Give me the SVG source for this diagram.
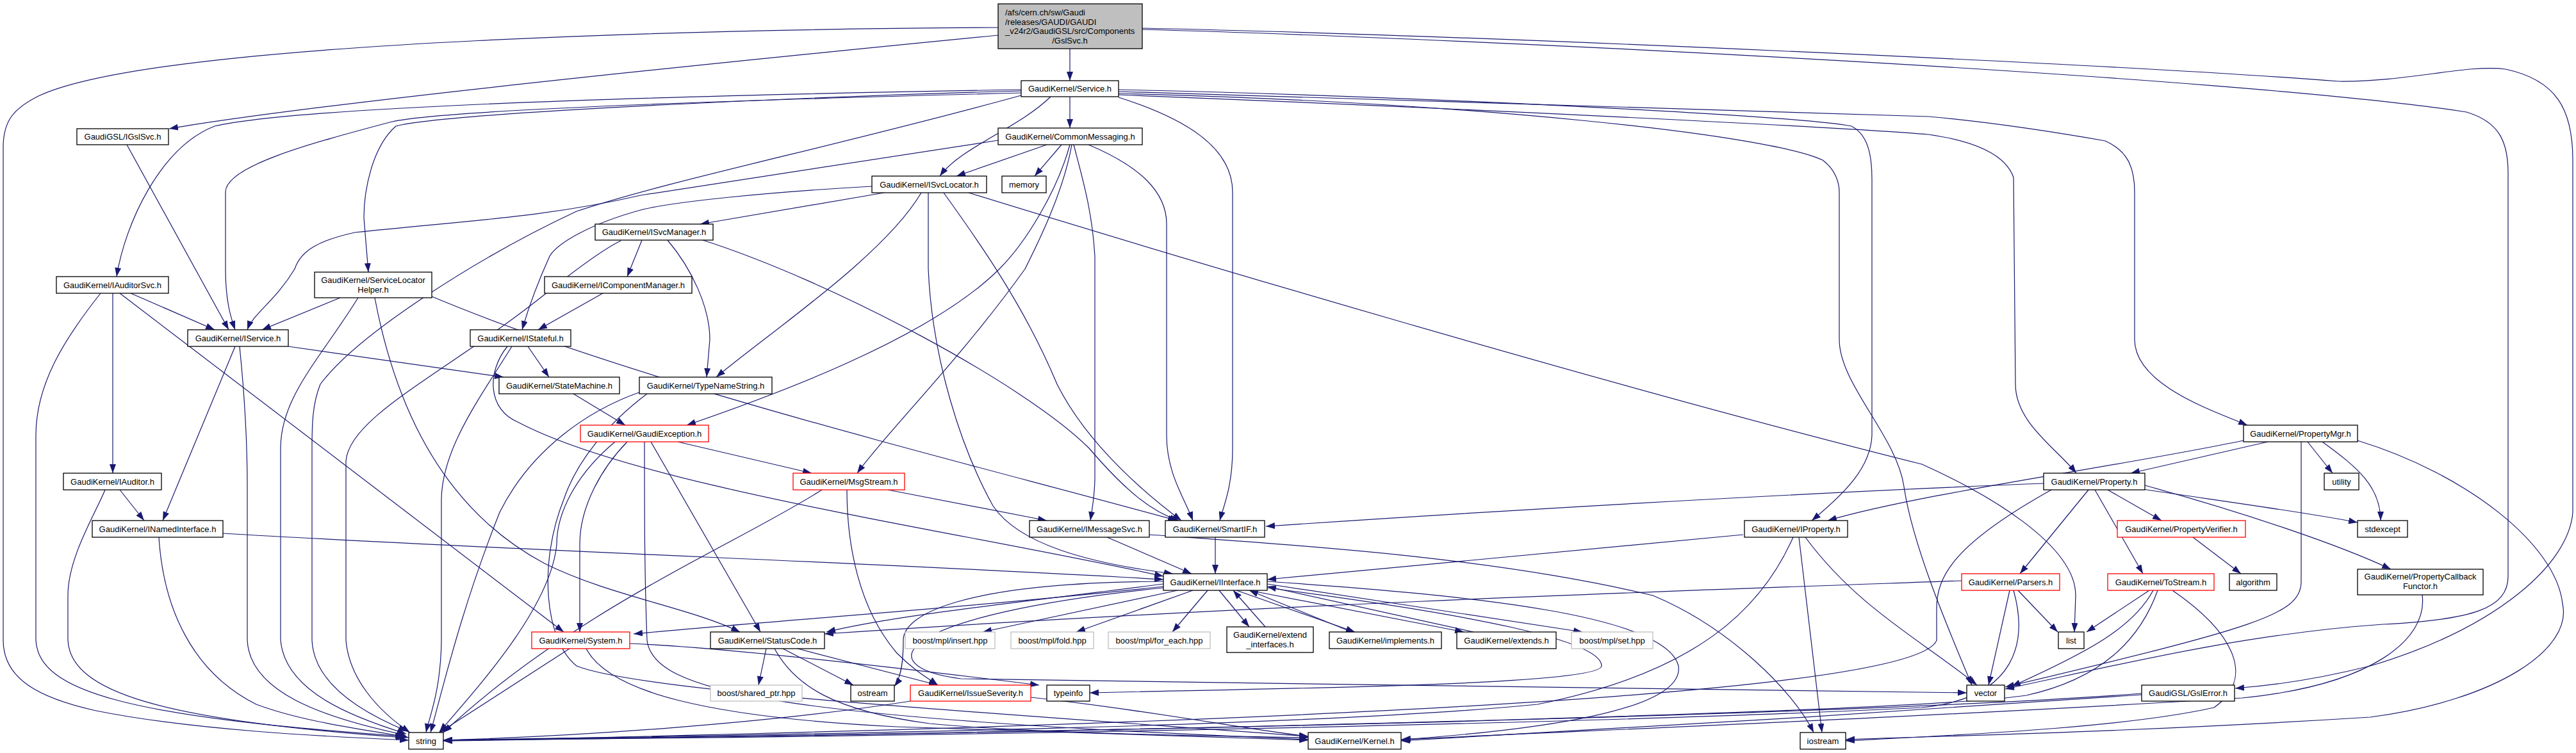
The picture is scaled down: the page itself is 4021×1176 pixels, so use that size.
<svg xmlns="http://www.w3.org/2000/svg" width="4021" height="1176" viewBox="0 0 4021 1176">
<defs>
<marker id="a" markerWidth="14" markerHeight="10" refX="14" refY="5" orient="auto" markerUnits="userSpaceOnUse"><path d="M0,0 L14,5 L0,10 z" fill="#191970"/></marker>
<style>
.n rect{fill:#fff;stroke:#000;stroke-width:1.3}
.n.r rect{stroke:#ff0000}
.n.g rect{stroke:#bfbfbf}
.n.m rect{fill:#bfbfbf}
text{font-family:"Liberation Sans",Arial,sans-serif;font-size:13px;fill:#000;text-anchor:middle}
text.l{text-anchor:start}
#edges path{fill:none;stroke:#191970;stroke-width:1.2;marker-end:url(#a)}
</style>
</defs>
<rect width="4021" height="1176" fill="#fff"/>
<g id="edges">
<path d="M1558,43 C1200,45 250,60 60,150 C20,170 5,190 5,230 L5,1000 C5,1060 60,1090 150,1110 C300,1140 500,1150 638,1156"/>
<path d="M1558,55 C1200,90 500,160 264,201"/>
<path d="M1670,76 L1670,126"/>
<path d="M1783,46 C2300,60 3500,120 3850,175 C3900,190 3915,220 3915,270 L3915,900 C3915,950 3860,968 3720,975 C3500,990 3300,1040 3130,1076"/>
<path d="M1783,44 C2300,55 3300,100 3651,127 C3760,128 3850,100 3911,108 C3990,125 4016,170 4016,250 L4016,800 C4010,880 3900,980 3700,1040 C3600,1065 3530,1072 3489,1075"/>
<path d="M198,226 L357,515"/>
<path d="M1594,140 C1300,145 500,160 335,197 C250,230 195,350 182,432"/>
<path d="M1594,142 C1300,150 700,175 618,197 C580,230 568,300 568,340 L575,425"/>
<path d="M1594,145 C1200,155 700,170 612,190 C480,225 352,260 352,300 L352,420 C352,470 360,495 367,515"/>
<path d="M1594,149 C1300,230 1050,280 900,330 C750,400 560,520 500,600 C488,630 487,660 487,700 L487,1000 C490,1070 570,1115 636,1142"/>
<path d="M1640,151 C1590,200 1500,230 1467,275"/>
<path d="M1670,151 L1670,200"/>
<path d="M1746,152 C1850,185 1924,230 1924,300 L1924,700 C1924,760 1910,790 1904,813"/>
<path d="M1746,140 C2200,150 2800,180 2890,197 C2915,210 2922,240 2922,280 L2922,680 C2920,730 2880,770 2828,813"/>
<path d="M1746,146 C2300,160 2760,210 2845,250 C2865,265 2871,285 2871,300 L2871,530 C2871,600 2960,680 2972,760 C2985,850 3040,980 3078,1070"/>
<path d="M1746,143 C2300,160 2900,175 3010,182 C3100,190 3200,205 3286,220 C3320,235 3332,260 3332,300 L3332,530 C3332,600 3450,640 3508,664"/>
<path d="M1746,148 C2300,170 2900,200 3010,210 C3080,220 3130,240 3143,277 L3146,600 C3146,660 3210,700 3241,739"/>
<path d="M1559,219 C1300,260 1100,290 1000,305 C850,340 720,345 554,363 C500,375 470,390 460,420 C430,470 395,490 386,515"/>
<path d="M1634,226 L1493,275"/>
<path d="M1657,226 L1615,275"/>
<path d="M1670,226 C1650,300 1600,380 1560,420 C1450,530 1200,620 1072,664"/>
<path d="M1673,226 C1660,300 1620,380 1600,420 C1500,560 1380,680 1338,739"/>
<path d="M1676,226 C1690,280 1705,330 1709,400 L1709,750 C1708,780 1704,800 1702,813"/>
<path d="M1699,226 C1780,260 1821,300 1821,350 L1821,680 C1821,740 1850,780 1862,813"/>
<path d="M1380,301 L1093,350"/>
<path d="M1438,301 C1380,400 1200,520 1118,589"/>
<path d="M1449,301 L1449,420 C1455,560 1500,700 1550,790 C1590,850 1700,880 1831,896"/>
<path d="M1473,301 C1530,380 1600,480 1650,600 C1700,700 1800,780 1844,813"/>
<path d="M1512,301 C1800,390 2500,600 3000,725 C3100,770 3240,850 3240,930 L3238,987"/>
<path d="M1361,291 C1200,300 1050,315 1000,328 C920,350 870,380 858,400 C840,440 825,480 815,515"/>
<path d="M1002,375 L979,432"/>
<path d="M1042,375 C1080,420 1108,480 1108,530 L1103,589"/>
<path d="M1097,375 C1300,440 1600,600 1700,700 C1760,770 1800,800 1840,813"/>
<path d="M969,376 C940,390 900,420 850,460 C700,580 545,650 540,720 L540,1000 C545,1060 590,1110 640,1144"/>
<path d="M157,458 C100,530 56,600 56,680 L56,1000 C60,1080 200,1120 631,1150"/>
<path d="M176,458 L176,739"/>
<path d="M204,458 L335,515"/>
<path d="M187,458 L880,987"/>
<path d="M164,765 C150,800 106,870 106,930 L106,1000 C110,1080 250,1125 632,1152"/>
<path d="M187,765 L225,813"/>
<path d="M348,833 C800,860 1400,880 1816,905"/>
<path d="M248,839 C255,950 300,1050 400,1100 C480,1130 580,1140 638,1152"/>
<path d="M367,541 L254,813"/>
<path d="M450,541 L786,589"/>
<path d="M374,541 C380,600 386,680 386,760 L386,1000 C390,1080 500,1120 633,1148"/>
<path d="M531,465 L409,515"/>
<path d="M559,465 C500,560 438,620 438,700 L438,1000 C445,1080 550,1120 634,1146"/>
<path d="M585,465 C620,650 700,800 850,880 C950,930 1080,950 1155,987"/>
<path d="M674,463 C1000,600 1500,720 1837,813"/>
<path d="M824,541 L857,589"/>
<path d="M799,541 C750,620 690,700 689,780 L689,1000 C688,1080 670,1120 665,1144"/>
<path d="M792,541 C760,580 760,640 810,660 C1000,760 1500,830 1816,900"/>
<path d="M941,458 L840,515"/>
<path d="M895,615 L976,664"/>
<path d="M1000,612 C920,640 830,700 780,800 C720,950 690,1080 672,1144"/>
<path d="M1010,615 C950,660 900,720 880,780 C840,880 850,1000 900,1040 C1000,1080 1500,1110 2042,1150"/>
<path d="M1058,690 L1267,739"/>
<path d="M979,690 C940,730 905,790 905,850 L905,987"/>
<path d="M960,690 C900,740 869,800 869,850 C860,950 740,1080 686,1143"/>
<path d="M1016,690 L1187,987"/>
<path d="M1006,690 C1006,800 1006,900 1010,1000 C1020,1080 1200,1120 2042,1155"/>
<path d="M1386,765 L1634,813"/>
<path d="M1283,765 C1150,850 900,950 692,1144"/>
<path d="M1322,765 C1322,850 1340,950 1400,1020 C1430,1050 1450,1060 1464,1070"/>
<path d="M1728,839 L1860,896"/>
<path d="M1794,835 C2000,850 2322,868 2580,930 C2700,980 2800,1080 2831,1144"/>
<path d="M1897,839 L1897,896"/>
<path d="M1816,912 C1600,940 1400,960 1290,987"/>
<path d="M1838,922 L1534,987"/>
<path d="M1862,922 L1680,987"/>
<path d="M1885,922 L1830,987"/>
<path d="M1903,922 L1950,979"/>
<path d="M1930,922 L2115,987"/>
<path d="M1950,922 L2285,987"/>
<path d="M1978,912 L2470,987"/>
<path d="M1816,916 C1500,950 1200,970 989,990"/>
<path d="M1975,979 L1925,922"/>
<path d="M2110,987 L1950,922"/>
<path d="M2300,987 L1978,916"/>
<path d="M3343,1083 C3000,1110 2000,1140 692,1157"/>
<path d="M3343,1085 C3000,1110 2500,1140 2187,1157"/>
<path d="M2799,839 C2750,950 2650,1050 2400,1100 C2000,1140 1000,1150 692,1156"/>
<path d="M2721,835 L1978,905"/>
<path d="M2808,839 L2844,1144"/>
<path d="M2818,839 C2900,950 3000,1000 3086,1070"/>
<path d="M3062,907 C2700,920 2000,942 1287,990"/>
<path d="M3150,922 L3212,987"/>
<path d="M3137,922 L3104,1070"/>
<path d="M3143,922 C3165,1000 3150,1090 3000,1105 C2500,1130 1500,1150 692,1156"/>
<path d="M3355,922 L3257,987"/>
<path d="M3361,922 C3330,980 3260,1018 3140,1072"/>
<path d="M3368,922 C3340,1000 3280,1060 3163,1086 C3000,1110 2000,1140 692,1156"/>
<path d="M3391,922 C3490,990 3520,1060 3456,1105 C3300,1140 3000,1150 2881,1157"/>
<path d="M3423,839 L3498,896"/>
<path d="M3502,688 C3300,730 3000,770 2853,813"/>
<path d="M3540,690 L3326,739"/>
<path d="M3602,690 L3641,739"/>
<path d="M3625,690 C3680,730 3716,760 3716,813"/>
<path d="M3592,690 L3592,910 C3590,960 3521,980 3130,1073"/>
<path d="M3680,688 C3850,740 3990,850 4000,943 C4016,1013 3900,1093 3700,1120 C3300,1145 3000,1150 2881,1155"/>
<path d="M3190,755 C2800,770 2300,800 1976,822"/>
<path d="M3290,765 L3374,813"/>
<path d="M3260,765 L3153,896"/>
<path d="M3270,765 L3345,896"/>
<path d="M3345,764 C3450,780 3600,800 3680,816"/>
<path d="M3348,758 C3500,800 3650,850 3732,889"/>
<path d="M3202,765 C3050,850 3023,900 3023,950 L3023,1000 C3000,1060 2500,1120 692,1157"/>
<path d="M3781,929 C3790,1000 3700,1070 3500,1090 C3000,1120 2500,1140 2187,1155"/>
<path d="M1421,1095 C1200,1130 900,1150 692,1156"/>
<path d="M1609,1089 C1800,1110 1950,1140 2042,1150"/>
<path d="M1209,1013 C1240,1070 1300,1110 1451,1130 C1600,1145 1900,1150 2042,1152"/>
<path d="M1196,1013 L1184,1070"/>
<path d="M1222,1013 L1332,1070"/>
<path d="M1245,1013 L1464,1070"/>
<path d="M889,1013 L686,1144"/>
<path d="M915,1013 C950,1080 1100,1120 1400,1135 C1700,1145 1900,1150 2042,1156"/>
<path d="M983,1005 C1100,1010 1300,1030 1622,1070"/>
<path d="M1978,908 C2300,930 2600,960 2620,1040 C2630,1110 2400,1140 2188,1155"/>
<path d="M1816,908 C1500,910 1410,960 1410,1000 C1410,1040 1405,1060 1396,1072"/>
<path d="M1978,918 C2300,960 2500,1000 2500,1040 C2500,1070 2000,1075 1701,1082"/>
<path d="M1816,918 C1400,960 1350,1040 1500,1060 C2000,1070 2800,1075 3070,1082"/>
</g>
<g id="main" class="n m"><rect x="1558" y="6" width="225" height="70"/><text class="l" x="1569" y="24">/afs/cern.ch/sw/Gaudi</text><text class="l" x="1569" y="38.5">/releases/GAUDI/GAUDI</text><text class="l" x="1569" y="53">_v24r2/GaudiGSL/src/Components</text><text x="1670" y="67.5">/GslSvc.h</text></g>
<g id="Service" class="n"><rect x="1594" y="126" width="152" height="25"/><text x="1670" y="143">GaudiKernel/Service.h</text></g>
<g id="IGslSvc" class="n"><rect x="120" y="201" width="143" height="25"/><text x="191.5" y="218">GaudiGSL/IGslSvc.h</text></g>
<g id="CommonMessaging" class="n"><rect x="1558" y="200" width="225" height="26"/><text x="1670.5" y="217.5">GaudiKernel/CommonMessaging.h</text></g>
<g id="ISvcLocator" class="n"><rect x="1361" y="275" width="179" height="26"/><text x="1450.5" y="292.5">GaudiKernel/ISvcLocator.h</text></g>
<g id="memory" class="n"><rect x="1564" y="275" width="69" height="26"/><text x="1598.5" y="292.5">memory</text></g>
<g id="ISvcManager" class="n"><rect x="929" y="350" width="184" height="25"/><text x="1021" y="367">GaudiKernel/ISvcManager.h</text></g>
<g id="IAuditorSvc" class="n"><rect x="88" y="432" width="175" height="26"/><text x="175.5" y="449.5">GaudiKernel/IAuditorSvc.h</text></g>
<g id="ServiceLocatorHelper" class="n"><rect x="491" y="425" width="183" height="40"/><text x="582.5" y="441.5">GaudiKernel/ServiceLocator</text><text x="582.5" y="456.5">Helper.h</text></g>
<g id="IComponentManager" class="n"><rect x="850" y="432" width="230" height="26"/><text x="965" y="449.5">GaudiKernel/IComponentManager.h</text></g>
<g id="IService" class="n"><rect x="293" y="515" width="157" height="26"/><text x="371.5" y="532.5">GaudiKernel/IService.h</text></g>
<g id="IStateful" class="n"><rect x="734" y="515" width="157" height="26"/><text x="812.5" y="532.5">GaudiKernel/IStateful.h</text></g>
<g id="StateMachine" class="n"><rect x="779" y="589" width="188" height="26"/><text x="873" y="606.5">GaudiKernel/StateMachine.h</text></g>
<g id="TypeNameString" class="n"><rect x="998" y="589" width="207" height="26"/><text x="1101.5" y="606.5">GaudiKernel/TypeNameString.h</text></g>
<g id="GaudiException" class="n r"><rect x="906" y="664" width="200" height="26"/><text x="1006" y="681.5">GaudiKernel/GaudiException.h</text></g>
<g id="IAuditor" class="n"><rect x="99" y="739" width="153" height="26"/><text x="175.5" y="756.5">GaudiKernel/IAuditor.h</text></g>
<g id="MsgStream" class="n r"><rect x="1238" y="739" width="174" height="26"/><text x="1325" y="756.5">GaudiKernel/MsgStream.h</text></g>
<g id="PropertyMgr" class="n"><rect x="3502" y="664" width="178" height="26"/><text x="3591" y="681.5">GaudiKernel/PropertyMgr.h</text></g>
<g id="Property" class="n"><rect x="3190" y="739" width="158" height="26"/><text x="3269" y="756.5">GaudiKernel/Property.h</text></g>
<g id="utility" class="n"><rect x="3628" y="739" width="54" height="26"/><text x="3655" y="756.5">utility</text></g>
<g id="INamedInterface" class="n"><rect x="144" y="813" width="204" height="26"/><text x="246" y="830.5">GaudiKernel/INamedInterface.h</text></g>
<g id="IMessageSvc" class="n"><rect x="1607" y="813" width="187" height="26"/><text x="1700.5" y="830.5">GaudiKernel/IMessageSvc.h</text></g>
<g id="SmartIF" class="n"><rect x="1819" y="813" width="155" height="26"/><text x="1896.5" y="830.5">GaudiKernel/SmartIF.h</text></g>
<g id="IProperty" class="n"><rect x="2723" y="813" width="161" height="26"/><text x="2803.5" y="830.5">GaudiKernel/IProperty.h</text></g>
<g id="PropertyVerifier" class="n r"><rect x="3305" y="813" width="200" height="26"/><text x="3405" y="830.5">GaudiKernel/PropertyVerifier.h</text></g>
<g id="stdexcept" class="n"><rect x="3680" y="813" width="78" height="26"/><text x="3719" y="830.5">stdexcept</text></g>
<g id="IInterface" class="n"><rect x="1816" y="896" width="162" height="26"/><text x="1897" y="913.5">GaudiKernel/IInterface.h</text></g>
<g id="Parsers" class="n r"><rect x="3062" y="896" width="153" height="26"/><text x="3138.5" y="913.5">GaudiKernel/Parsers.h</text></g>
<g id="ToStream" class="n r"><rect x="3290" y="896" width="166" height="26"/><text x="3373" y="913.5">GaudiKernel/ToStream.h</text></g>
<g id="algorithm" class="n"><rect x="3480" y="896" width="74" height="26"/><text x="3517" y="913.5">algorithm</text></g>
<g id="PropertyCallbackFunctor" class="n"><rect x="3680" y="889" width="196" height="40"/><text x="3778" y="905">GaudiKernel/PropertyCallback</text><text x="3778" y="920">Functor.h</text></g>
<g id="extend_interfaces" class="n"><rect x="1915" y="979" width="135" height="40"/><text x="1982.5" y="996">GaudiKernel/extend</text><text x="1982.5" y="1011">_interfaces.h</text></g>
<g id="System" class="n r"><rect x="830" y="987" width="153" height="26"/><text x="906.5" y="1004.5">GaudiKernel/System.h</text></g>
<g id="StatusCode" class="n"><rect x="1109" y="987" width="178" height="26"/><text x="1198" y="1004.5">GaudiKernel/StatusCode.h</text></g>
<g id="insert" class="n g"><rect x="1413" y="987" width="140" height="26"/><text x="1483" y="1004.5">boost/mpl/insert.hpp</text></g>
<g id="fold" class="n g"><rect x="1578" y="987" width="129" height="26"/><text x="1642.5" y="1004.5">boost/mpl/fold.hpp</text></g>
<g id="for_each" class="n g"><rect x="1730" y="987" width="159" height="26"/><text x="1809.5" y="1004.5">boost/mpl/for_each.hpp</text></g>
<g id="implements" class="n"><rect x="2075" y="987" width="175" height="26"/><text x="2162.5" y="1004.5">GaudiKernel/implements.h</text></g>
<g id="extends" class="n"><rect x="2274" y="987" width="155" height="26"/><text x="2351.5" y="1004.5">GaudiKernel/extends.h</text></g>
<g id="set" class="n g"><rect x="2453" y="987" width="127" height="26"/><text x="2516.5" y="1004.5">boost/mpl/set.hpp</text></g>
<g id="list" class="n"><rect x="3213" y="987" width="40" height="26"/><text x="3233" y="1004.5">list</text></g>
<g id="shared_ptr" class="n g"><rect x="1109" y="1070" width="143" height="25"/><text x="1180.5" y="1087">boost/shared_ptr.hpp</text></g>
<g id="ostream" class="n"><rect x="1328" y="1070" width="68" height="25"/><text x="1362" y="1087">ostream</text></g>
<g id="IssueSeverity" class="n r"><rect x="1421" y="1070" width="188" height="25"/><text x="1515" y="1087">GaudiKernel/IssueSeverity.h</text></g>
<g id="typeinfo" class="n"><rect x="1634" y="1070" width="67" height="25"/><text x="1667.5" y="1087">typeinfo</text></g>
<g id="vector" class="n"><rect x="3070" y="1070" width="59" height="25"/><text x="3099.5" y="1087">vector</text></g>
<g id="GslError" class="n"><rect x="3343" y="1070" width="145" height="25"/><text x="3415.5" y="1087">GaudiGSL/GslError.h</text></g>
<g id="string" class="n"><rect x="638" y="1144" width="54" height="26"/><text x="665" y="1161.5">string</text></g>
<g id="Kernel" class="n"><rect x="2042" y="1144" width="145" height="26"/><text x="2114.5" y="1161.5">GaudiKernel/Kernel.h</text></g>
<g id="iostream" class="n"><rect x="2810" y="1144" width="71" height="26"/><text x="2845.5" y="1161.5">iostream</text></g>
</svg>
